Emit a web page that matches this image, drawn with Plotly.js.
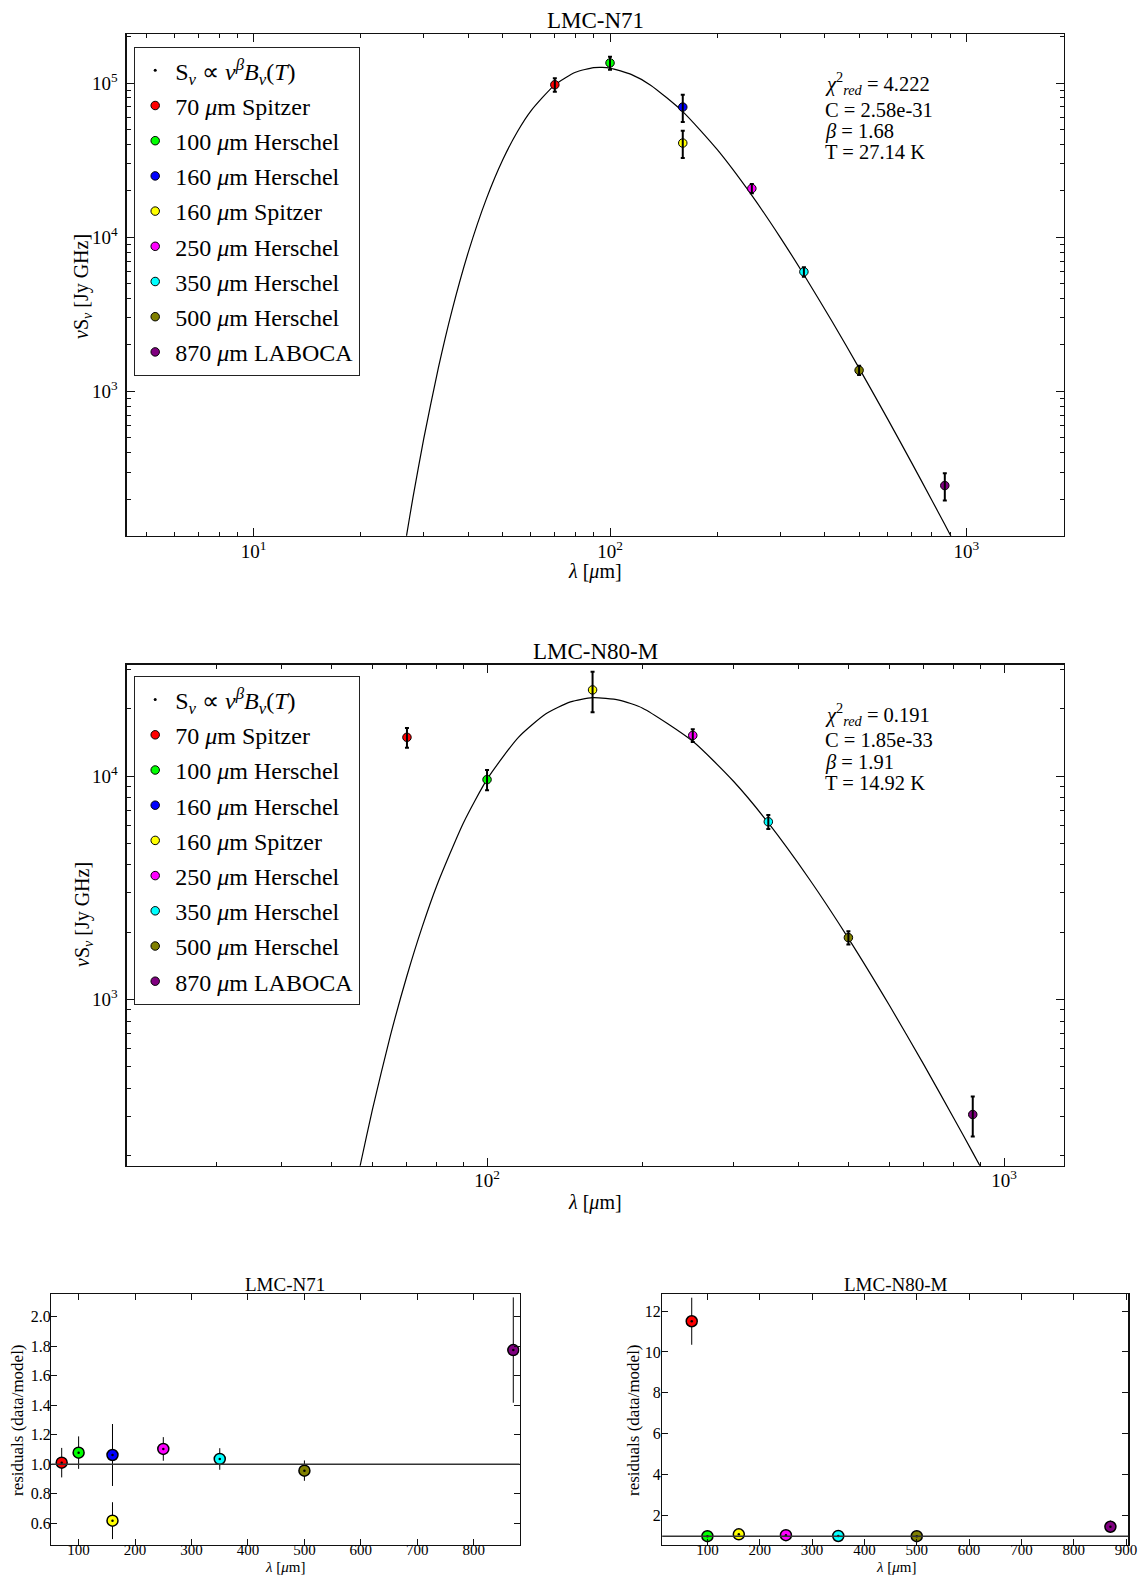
<!DOCTYPE html>
<html>
<head>
<meta charset="utf-8">
<script src="https://cdn.plot.ly/plotly-3.0.1.min.js"></script>
<style>
  html, body { margin: 0; padding: 0; background: #fff; }
  #sed { width: 1141px; height: 1576px; }
</style>
</head>
<body>
<div id="sed"></div>
<script>
// ---------- photometric bands ----------
const bandWavelength = [70, 100, 160, 160, 250, 350, 500, 870];
const bandLabel = [
  '70 <i>μ</i>m Spitzer', '100 <i>μ</i>m Herschel', '160 <i>μ</i>m Herschel',
  '160 <i>μ</i>m Spitzer', '250 <i>μ</i>m Herschel', '350 <i>μ</i>m Herschel',
  '500 <i>μ</i>m Herschel', '870 <i>μ</i>m LABOCA'
];
const bandColor = ['#ff0000', '#00ff00', '#0000ff', '#ffff00', '#ff00ff', '#00ffff', '#808000', '#800080'];
const modelLabel = 'S<sub><i>ν</i></sub> ∝ <i>ν</i><sup><i>β</i></sup><i>B</i><sub><i>ν</i></sub>(<i>T</i>)';

// ---------- LMC-N71 ----------
const n71Flux    = [97500, 135000, 69800, 40800, 20700, 5970, 1370, 245];   // νSν [Jy GHz]
const n71FluxErr = [9700, 13000, 14000, 8200, 1400, 420, 95, 49];
const n71Resid    = [1.011, 1.079, 1.063, 0.618, 1.104, 1.036, 0.957, 1.774]; // data / model
const n71ResidErr = [0.10, 0.11, 0.21, 0.125, 0.08, 0.073, 0.069, 0.357];
const n71ModelLambda = [25, 26.9, 28, 30, 33, 36, 40, 45, 50, 55, 60, 70, 80, 90, 95, 100, 115, 130,
                        160, 200, 250, 300, 350, 420, 500, 600, 700, 800, 870, 920];
const n71Model = [40.5, 119, 206, 492, 1430, 3330, 7970, 17800, 31800, 48500, 66000, 97300, 117500,
                  125900, 126400, 125000, 113400, 96900, 65300, 36960, 18670, 10020, 5710, 2840,
                  1416, 668, 349, 197, 137, 107];
const n71FitText = ['<i>χ</i><sup>2</sup><sub><i>red</i></sub> = 4.222', 'C = 2.58e-31', '<i>β</i> = 1.68', 'T = 27.14 K'];

// ---------- LMC-N80-M (no 160 μm Herschel measurement) ----------
const n80Flux    = [14900, 9640, null, 24300, 15200, 6240, 1890, 305];
const n80FluxErr = [1500, 1000, null, 5000, 1000, 450, 130, 62];
const n80Resid    = [11.5, 1.0, null, 1.09, 1.05, 1.01, 1.0, 1.46];
const n80ResidErr = [1.15, 0.10, null, 0.22, 0.075, 0.07, 0.07, 0.30];
const n80ModelLambda = [50, 55, 57, 60, 65, 70, 75, 80, 90, 100, 115, 130, 145, 160, 180, 200, 250,
                        300, 350, 420, 500, 600, 700, 800, 870, 930];
const n80Model = [37.7, 124, 186, 320, 686, 1276, 2128, 3245, 6168, 9668, 14900, 19000, 21480, 22430,
                  21880, 20130, 14310, 9449, 6166, 3459, 1876, 941, 509, 293, 206, 155];
const n80FitText = ['<i>χ</i><sup>2</sup><sub><i>red</i></sub> = 0.191', 'C = 1.85e-33', '<i>β</i> = 1.91', 'T = 14.92 K'];

// ---------- tick labels ----------
const n71XTicks = [10, 100, 1000];
const n71XTickText = ['10<sup>1</sup>', '10<sup>2</sup>', '10<sup>3</sup>'];
const n71YTicks = [1e3, 1e4, 1e5];
const n71YTickText = ['10<sup>3</sup>', '10<sup>4</sup>', '10<sup>5</sup>'];
const n80XTicks = [100, 1000];
const n80XTickText = ['10<sup>2</sup>', '10<sup>3</sup>'];
const n80YTicks = [1e3, 1e4];
const n80YTickText = ['10<sup>3</sup>', '10<sup>4</sup>'];
const r71XTicks = [100, 200, 300, 400, 500, 600, 700, 800];
const r71YTicks = [0.6, 0.8, 1.0, 1.2, 1.4, 1.6, 1.8, 2.0];
const r80XTicks = [100, 200, 300, 400, 500, 600, 700, 800, 900];
const r80YTicks = [2, 4, 6, 8, 10, 12];

// ---------- page geometry ----------
const W = 1141, H = 1576;
const FONT = 'Liberation Serif, Times New Roman, serif';
const px = v => v / W;
const py = v => 1 - v / H;
const box = {
  n71: { l: 126.7, r: 1064, t: 34, b: 535.7 },
  n80: { l: 126.7, r: 1064, t: 664.7, b: 1165.7 },
  r71: { l: 51.3, r: 519.5, t: 1294.3, b: 1545 },
  r80: { l: 662.2, r: 1128.2, t: 1294.3, b: 1545 }
};

function logMinorTicks(lo, hi) {
  const v = [];
  for (let d = lo; d < hi; d++) for (let k = 2; k < 10; k++) v.push(k * Math.pow(10, d));
  return v;
}

function frame(b, horizontal, anchor, extra) {
  const dom = horizontal ? [px(b.l), px(b.r)] : [py(b.b), py(b.t)];
  return Object.assign({
    domain: dom, anchor: anchor, showline: true, linecolor: '#111', linewidth: 1.3, mirror: 'allticks',
    ticks: 'inside', ticklen: 8, tickwidth: 1, tickcolor: '#111',
    showgrid: false, zeroline: false, fixedrange: true,
    tickfont: { family: FONT, size: 19, color: '#000' }
  }, extra);
}

function logAxis(b, horizontal, anchor, range, vals, text, minorLo, minorHi, standoff) {
  return frame(b, horizontal, anchor, {
    type: 'log', range: range, tickmode: 'array', tickvals: vals, ticktext: text,
    minor: { tickmode: 'array', tickvals: logMinorTicks(minorLo, minorHi), ticks: 'inside', ticklen: 4, tickwidth: 1, tickcolor: '#111' },
    ticklabelstandoff: standoff
  });
}

function linAxis(b, horizontal, anchor, range, vals, fmt, standoff, size) {
  return frame(b, horizontal, anchor, {
    type: 'linear', range: range, tickmode: 'array', tickvals: vals, ticklen: 6,
    tickformat: fmt, tickfont: { family: FONT, size: size, color: '#000' },
    ticklabelstandoff: standoff
  });
}

const data = [];

function addSed(xa, ya, legendId, flux, err, mLambda, mFlux, tag) {
  // fitted curve
  data.push({ type: 'scatter', mode: 'lines', x: mLambda, y: mFlux, xaxis: xa, yaxis: ya,
    line: { color: '#000', width: 1.2, shape: 'spline', smoothing: 0.6 }, showlegend: false, hoverinfo: 'skip' });
  // legend entry of the model
  data.push({ type: 'scatter', mode: 'markers', x: [null], y: [null], xaxis: xa, yaxis: ya,
    name: modelLabel, legend: legendId, legendgroup: tag + '-model',
    marker: { color: '#000', size: 3 } });
  // one trace per band
  bandWavelength.forEach((lam, i) => {
    data.push({ type: 'scatter', mode: 'markers', x: [lam], y: [flux[i]], xaxis: xa, yaxis: ya,
      name: bandLabel[i], legend: legendId, legendgroup: tag + '-' + i,
      marker: { color: bandColor[i], size: 8.5, line: { color: '#000', width: 1 } } });
  });
  // error bars drawn above the symbols
  data.push({ type: 'scatter', mode: 'markers', x: bandWavelength, y: flux, xaxis: xa, yaxis: ya,
    marker: { size: 1, opacity: 0 }, showlegend: false, hoverinfo: 'skip',
    error_y: { type: 'data', array: err, visible: true, color: '#000', thickness: 2, width: 2 } });
}

function addResid(xa, ya, resid, err) {
  bandWavelength.forEach((lam, i) => {
    data.push({ type: 'scatter', mode: 'markers', x: [lam], y: [resid[i]], xaxis: xa, yaxis: ya,
      showlegend: false, hoverinfo: 'skip',
      marker: { color: bandColor[i], size: 11, line: { color: '#000', width: 1.5 } },
      error_y: { type: 'data', array: [err[i]], visible: true, color: '#000', thickness: 1, width: 0 } });
  });
  data.push({ type: 'scatter', mode: 'markers', x: bandWavelength, y: resid, xaxis: xa, yaxis: ya,
    showlegend: false, hoverinfo: 'skip', marker: { color: '#000', size: 2.5 } });
}

addSed('x', 'y', 'legend', n71Flux, n71FluxErr, n71ModelLambda, n71Model, 'n71');
addSed('x2', 'y2', 'legend2', n80Flux, n80FluxErr, n80ModelLambda, n80Model, 'n80');
addResid('x3', 'y3', n71Resid, n71ResidErr);
addResid('x4', 'y4', n80Resid, n80ResidErr);

const lambdaTitle = '<i>λ</i> [<i>μ</i>m]';
const sedYTitle = '<i>ν</i>S<sub><i>ν</i></sub> [Jy GHz]';
const residTitle = 'residuals (data/model)';

const annotations = [];
function label(text, x, y, size, angle) {
  annotations.push({ xref: 'paper', yref: 'paper', x: px(x), y: py(y), xanchor: 'center', yanchor: 'middle',
    text: text, showarrow: false, textangle: angle || 0, font: { family: FONT, size: size, color: '#000' } });
}
function fitBlock(lines, x, ys) {
  lines.forEach((t, i) => annotations.push({ xref: 'paper', yref: 'paper', x: px(x), y: py(ys[i]),
    xanchor: 'left', yanchor: 'middle', text: t, showarrow: false,
    font: { family: FONT, size: 20.5, color: '#000' } }));
}
// panel titles
label('LMC-N71', 595.4, 20.6, 23);
label('LMC-N80-M', 595.4, 651.5, 23);
label('LMC-N71', 285.4, 1284, 19);
label('LMC-N80-M', 895.5, 1284, 19);
// axis titles
label(lambdaTitle, 595.4, 571, 20);
label(sedYTitle, 83, 287, 20, -90);
label(lambdaTitle, 595.4, 1202, 20);
label(sedYTitle, 83, 915, 20, -90);
label(lambdaTitle, 285.4, 1567, 15);
label(residTitle, 17, 1420, 17, -90);
label(lambdaTitle, 895.5, 1567, 15);
label(residTitle, 633, 1420, 17, -90);
// fit parameters
fitBlock(n71FitText, 822.7, [84, 109.6, 131.7, 152.4]);
fitBlock(n80FitText, 822.7, [714.3, 739.8, 762, 782.7]);

const legendStyle = {
  xanchor: 'left', yanchor: 'top', bgcolor: '#fff', bordercolor: '#222', borderwidth: 1.2,
  font: { family: FONT, size: 24, color: '#000' }, tracegroupgap: 1, itemwidth: 30
};

const layout = {
  width: W, height: H, margin: { l: 0, r: 0, t: 0, b: 0 },
  paper_bgcolor: '#fff', plot_bgcolor: '#fff', showlegend: true,
  font: { family: FONT, color: '#000' },
  legend: Object.assign({ x: px(134), y: py(47) }, legendStyle),
  legend2: Object.assign({ x: px(134), y: py(676.3) }, legendStyle),
  xaxis: logAxis(box.n71, true, 'y', [0.6436, 3.274], n71XTicks, n71XTickText, 0, 4, -2),
  yaxis: logAxis(box.n71, false, 'x', [2.064, 5.318], n71YTicks, n71YTickText, 2, 6, 4),
  xaxis2: logAxis(box.n80, true, 'y2', [1.303, 3.116], n80XTicks, n80XTickText, 1, 4, -3),
  yaxis2: logAxis(box.n80, false, 'x2', [2.2552, 4.4985], n80YTicks, n80YTickText, 2, 5, 4),
  xaxis3: linAxis(box.r71, true, 'y3', [51.6, 881], r71XTicks, 'd', -9, 15),
  yaxis3: linAxis(box.r71, false, 'x3', [0.453, 2.152], r71YTicks, '.1f', -4, 16),
  xaxis4: linAxis(box.r80, true, 'y4', [13.6, 904], r80XTicks, 'd', -9, 15),
  yaxis4: linAxis(box.r80, false, 'x4', [0.569, 12.816], r80YTicks, 'd', -3, 16),
  shapes: [
    { type: 'line', xref: 'x3 domain', yref: 'y3', x0: 0, x1: 1, y0: 1, y1: 1, line: { color: '#333', width: 1.6 } },
    { type: 'line', xref: 'x4 domain', yref: 'y4', x0: 0, x1: 1, y0: 1, y1: 1, line: { color: '#333', width: 1.6 } }
  ],
  annotations: annotations
};

Plotly.newPlot('sed', data, layout, { displayModeBar: false, staticPlot: true });
</script>
</body>
</html>
